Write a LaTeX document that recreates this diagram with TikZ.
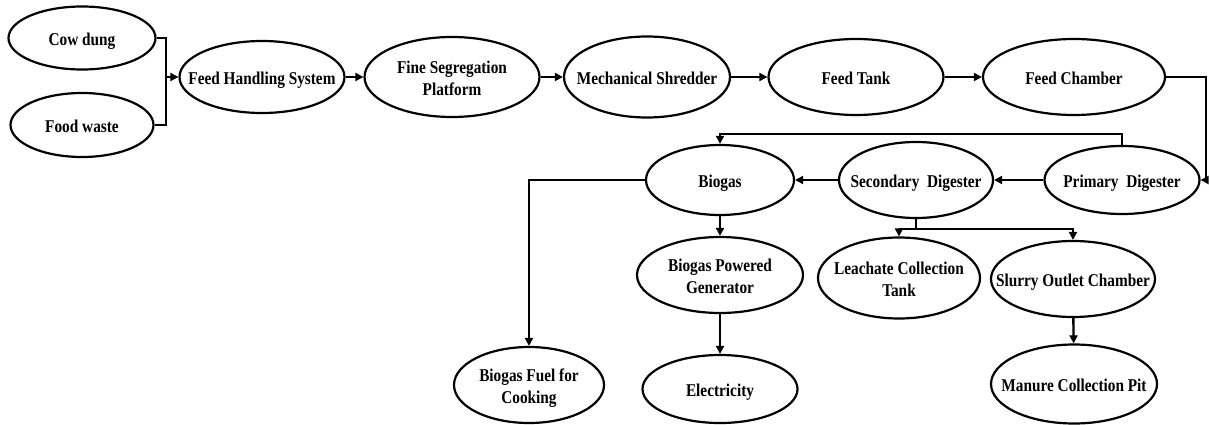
\documentclass[tikz,border=0pt]{standalone}
\usepackage{fontspec}
\setmainfont{Liberation Serif}[FakeStretch=0.85]
\usetikzlibrary{shapes.geometric,arrows.meta}
\newcommand\lbl[1]{\makebox[0pt]{\raisebox{-3pt}[\height][\depth]{\begin{tabular}{@{}c@{}}#1\end{tabular}}}}
\tikzset{
  oval/.style={ellipse,draw,line width=2.2pt,inner sep=0pt,
    font=\bfseries\fontsize{18}{22}\selectfont},
  conn/.style={line width=2.4pt},
  arr/.style={conn,-{Triangle[length=8pt,width=8pt]}},
}
\begin{document}
\begin{tikzpicture}[x=1pt,y=-1pt]
\useasboundingbox (0,0) rectangle (1209,425);
\node[oval,minimum width=147pt,minimum height=63pt] (cow) at (82,38) {\lbl{Cow dung}};
\node[oval,minimum width=143pt,minimum height=64pt] (food) at (82,125) {\lbl{Food waste}};
\node[oval,minimum width=165pt,minimum height=72pt] (fhs) at (262,77) {\lbl{Feed Handling System}};
\node[oval,minimum width=175pt,minimum height=80pt] (fsp) at (452,77) {\lbl{Fine Segregation\\Platform}};
\node[oval,minimum width=166pt,minimum height=81pt] (ms) at (647,77) {\lbl{Mechanical Shredder}};
\node[oval,minimum width=175pt,minimum height=76pt] (ft) at (856,77) {\lbl{Feed Tank}};
\node[oval,minimum width=182pt,minimum height=76pt] (fc) at (1074,77) {\lbl{Feed Chamber}};
\node[oval,minimum width=155pt,minimum height=68pt] (pd) at (1122,180) {\lbl{Primary\ \ Digester}};
\node[oval,minimum width=154pt,minimum height=76pt] (sd) at (916,180) {\lbl{Secondary\ \ Digester}};
\node[oval,minimum width=148pt,minimum height=70pt] (bio) at (720,180) {\lbl{Biogas}};
\node[oval,minimum width=150pt,minimum height=76pt] (cook) at (529,385) {\lbl{Biogas Fuel for\\Cooking}};
\node[oval,minimum width=166pt,minimum height=76pt] (gen) at (720,275) {\lbl{Biogas Powered\\Generator}};
\node[oval,minimum width=155pt,minimum height=68pt] (elec) at (720,389) {\lbl{Electricity}};
\node[oval,minimum width=162pt,minimum height=81pt] (leach) at (899,278) {\lbl{Leachate Collection\\Tank}};
\node[oval,minimum width=164pt,minimum height=76pt] (slurry) at (1073,279) {\lbl{Slurry Outlet Chamber}};
\node[oval,minimum width=166pt,minimum height=79pt] (manure) at (1074,384) {\lbl{Manure Collection Pit}};
\coordinate (j1) at (166,77);
\coordinate (c1) at (1206,77);
\coordinate (c2) at (1122,134);
\coordinate (c3) at (916,229);
\draw[conn] (cow.east) -| (j1);
\draw[conn] (food.east) -| (j1);
\draw[arr] (j1) -- (fhs.west);
\draw[arr] (fhs) -- (fsp);
\draw[arr] (fsp) -- (ms);
\draw[arr] (ms) -- (ft);
\draw[arr] (ft) -- (fc);
\draw[arr] (fc.east) -- (c1) |- (pd.east);
\draw[arr] (pd) -- (sd);
\draw[arr] (sd) -- (bio);
\draw[arr] (pd.north) -- (c2) -| (bio.north);
\draw[arr] (bio.west) -| (cook.north);
\draw[arr] (bio) -- (gen);
\draw[arr] (gen) -- (elec);
\draw[conn] (sd.south) -- (c3);
\draw[arr] (c3) -| (leach.north);
\draw[arr] (c3) -| (slurry.north);
\draw[arr] (slurry) -- (manure);
\end{tikzpicture}
\end{document}
